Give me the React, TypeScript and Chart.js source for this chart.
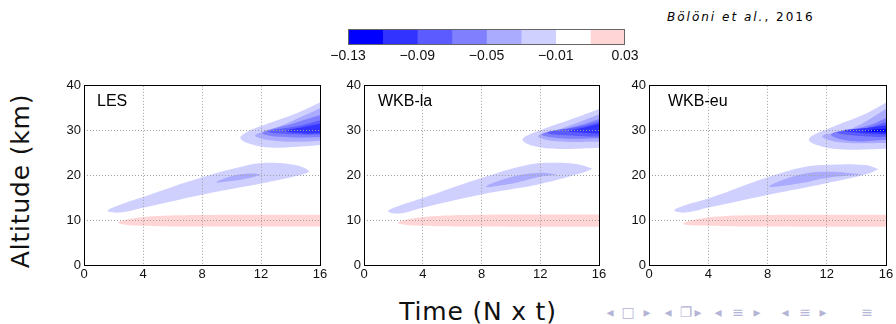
import React, { useEffect, useRef } from 'react';
import { Chart, registerables } from 'chart.js';

Chart.register(...registerables);

type Pt = [number, number];

// ---- axes / colour levels ----
const timeTicks = [0, 4, 8, 12, 16];
const altitudeTicks = [0, 10, 20, 30, 40];
const levelBounds = [-0.13, -0.11, -0.09, -0.07, -0.05, -0.03, -0.01, 0.01, 0.03];
const levelColors = ['#0000ff', '#3333ff', '#5b5bff', '#8080ff', '#aaaaff', '#d0d0ff', '#ffffff', '#ffd5d5'];
const colorbarTicks = [-0.13, -0.09, -0.05, -0.01, 0.03];
const panelNames = ['LES', 'WKB-la', 'WKB-eu'];

// ---- contour outlines (time, altitude) ----
// LES
const lesPink: Pt[] = [[16.4, 8.6], [12, 8.6], [8, 8.6], [5, 8.65], [3.5, 8.8], [2.6, 9.1], [2.3, 9.5], [2.6, 9.9], [3.5, 10.5], [5, 10.95], [8, 11.15], [12, 11.2], [16.4, 11.2]];
const lesBand20: Pt[] = [[15.3, 20.8], [14.7, 20.1], [12, 18.2], [8, 15.7], [4, 12.8], [2.4, 11.7], [1.6, 12.1], [2.4, 13.4], [4, 15.2], [8, 19.6], [10.6, 21.9], [12.4, 22.8], [14.2, 22.4], [15.0, 21.6], [15.3, 20.8]];
const lesCore20: Pt[] = [[12.0, 20.2], [11.3, 19.5], [10.1, 18.8], [9.0, 18.5], [10.1, 19.9], [11.3, 20.4], [12.0, 20.2]];
const les30a: Pt[] = [[16.4, 26.9], [14.5, 26.4], [12.7, 26.2], [11.4, 26.9], [10.6, 28.3], [11.0, 29.6], [12.0, 31.0], [14.5, 34.0], [16.4, 36.9]];
const les30b: Pt[] = [[16.4, 27.8], [14.5, 27.5], [12.5, 27.9], [11.6, 28.9], [12.3, 29.9], [13.3, 31.0], [16.4, 35.6]];
const les30c: Pt[] = [[16.4, 28.5], [13.3, 28.6], [12.1, 29.5], [14.0, 31.4], [16.4, 33.9]];
const les30d: Pt[] = [[16.4, 29.1], [14.0, 29.2], [12.5, 29.8], [14.5, 31.0], [16.4, 32.7]];
const les30e: Pt[] = [[16.4, 29.4], [14.9, 29.4], [13.7, 29.9], [14.9, 30.8], [16.4, 31.8]];

// WKB-la
const laPink: Pt[] = [[16.4, 8.55], [12, 8.55], [8, 8.6], [5, 8.65], [3.5, 8.8], [2.6, 9.1], [2.3, 9.45], [2.6, 9.9], [3.5, 10.5], [5, 10.95], [8, 11.2], [12, 11.25], [16.4, 11.25]];
const laBand20: Pt[] = [[15.55, 21.5], [14.7, 20.4], [12, 18.1], [7.9, 15.7], [4, 12.8], [2.4, 11.5], [1.65, 12.0], [2.4, 13.2], [4, 14.95], [7.9, 19.3], [11.1, 22.3], [12.9, 22.8], [14.7, 22.4], [15.55, 21.5]];
const laCore20: Pt[] = [[13.2, 20.2], [12, 19.7], [10.1, 18.2], [8.3, 17.5], [10.1, 19.7], [12, 20.6], [13.2, 20.2]];
const la30a: Pt[] = [[16.4, 26.2], [13.3, 25.9], [11.5, 26.6], [10.8, 28.1], [12.0, 30.1], [14.5, 33.0], [16.4, 35.3]];
const la30b: Pt[] = [[16.4, 27.5], [12.9, 27.7], [11.85, 28.8], [13.3, 30.3], [16.4, 34.1]];
const la30c: Pt[] = [[16.4, 28.3], [13.3, 28.3], [12.1, 29.2], [14.5, 31.0], [16.4, 33.0]];
const la30d: Pt[] = [[16.4, 28.7], [14.5, 28.8], [12.5, 29.5], [14.9, 31.0], [16.4, 32.4]];
const la30e: Pt[] = [[16.4, 29.2], [15.0, 29.5], [13.9, 29.9], [15.0, 30.7], [16.4, 31.9]];

// WKB-eu
const euPink: Pt[] = [[16.4, 8.55], [12, 8.55], [8, 8.6], [5, 8.65], [3.5, 8.8], [2.6, 8.95], [2.3, 9.2], [2.6, 9.7], [3.5, 10.4], [5, 10.9], [8, 11.15], [12, 11.2], [16.4, 11.2]];
const euBand20: Pt[] = [[15.5, 21.4], [14.6, 20.2], [11.9, 18.2], [8.1, 15.7], [4.1, 12.9], [2.4, 11.7], [1.7, 12.2], [2.4, 13.3], [4.1, 14.95], [8.1, 19.7], [10.5, 21.9], [12.3, 22.4], [14.6, 22.3], [15.5, 21.4]];
const euCore20: Pt[] = [[14.4, 20.2], [12.1, 19.5], [10.1, 18.2], [8.1, 17.5], [10.1, 20.1], [12.1, 20.8], [14.4, 20.2]];
const eu30a: Pt[] = [[16.4, 26.0], [13.1, 25.8], [11.5, 26.6], [10.8, 28.1], [12.0, 30.3], [14.7, 33.9], [16.4, 37.0]];
const eu30b: Pt[] = [[16.4, 27.2], [12.9, 27.4], [11.7, 28.8], [13.6, 30.3], [16.4, 35.6]];
const eu30c: Pt[] = [[16.4, 28.0], [13.6, 27.7], [12.3, 29.2], [14.7, 31.0], [16.4, 33.4]];
const eu30d: Pt[] = [[16.4, 28.6], [14.7, 28.7], [12.7, 29.6], [14.7, 30.6], [16.4, 32.3]];
const eu30e: Pt[] = [[16.4, 29.1], [14.5, 29.4], [13.1, 30.0], [14.5, 30.5], [16.4, 31.4]];
const eu30f: Pt[] = [[16.4, 29.5], [14.5, 29.9], [16.4, 30.5]];

// level index into levelColors for each outline
const lesShapes = [
  { level: 7, pts: lesPink }, { level: 5, pts: lesBand20 }, { level: 4, pts: lesCore20 },
  { level: 5, pts: les30a }, { level: 4, pts: les30b }, { level: 3, pts: les30c }, { level: 2, pts: les30d }, { level: 1, pts: les30e },
];
const laShapes = [
  { level: 7, pts: laPink }, { level: 5, pts: laBand20 }, { level: 4, pts: laCore20 },
  { level: 5, pts: la30a }, { level: 4, pts: la30b }, { level: 3, pts: la30c }, { level: 2, pts: la30d }, { level: 1, pts: la30e },
];
const euShapes = [
  { level: 7, pts: euPink }, { level: 5, pts: euBand20 }, { level: 4, pts: euCore20 },
  { level: 5, pts: eu30a }, { level: 4, pts: eu30b }, { level: 3, pts: eu30c }, { level: 2, pts: eu30d }, { level: 1, pts: eu30e }, { level: 0, pts: eu30f },
];
const panelShapes = [lesShapes, laShapes, euShapes];

// ---- layout (page pixels) ----
const panelLayout = [
  { left: 54, width: 276, labelDx: 13 },
  { left: 334, width: 275, labelDx: 14 },
  { left: 619, width: 277, labelDx: 19 },
];
const PANEL_TOP = 75;
const PANEL_H = 212;

const tickFont = { family: '"Liberation Sans", Arial, sans-serif', size: 13 };

const panelDecor = {
  id: 'panelDecor',
  afterDraw(chart: any, _args: any, opts: any) {
    const { ctx, chartArea: a } = chart;
    ctx.save();
    ctx.strokeStyle = '#000';
    ctx.lineWidth = 1;
    const l = Math.floor(a.left) + 0.5;
    const t = Math.floor(a.top) + 0.5;
    const r = Math.floor(a.right) + 0.5;
    const b = Math.floor(a.bottom) + 0.5;
    ctx.strokeRect(l, t, r - l, b - t);
    ctx.fillStyle = '#000';
    ctx.font = '16px "Liberation Sans", Arial, sans-serif';
    ctx.textBaseline = 'alphabetic';
    ctx.textAlign = 'left';
    ctx.fillText(opts.label, a.left + opts.dx, a.top + 20);
    ctx.restore();
  },
};

function Panel({ idx }: { idx: number }) {
  const ref = useRef<HTMLCanvasElement | null>(null);
  const lay = panelLayout[idx];
  useEffect(() => {
    const canvas = ref.current;
    if (!canvas) return;
    const shapes = panelShapes[idx];
    const chart = new Chart(canvas, {
      type: 'line',
      data: {
        datasets: shapes.map((s) => ({
          data: s.pts.map(([x, y]) => ({ x, y })),
          backgroundColor: levelColors[s.level],
          borderColor: 'rgba(0,0,0,0)',
          borderWidth: 0,
          pointRadius: 0,
          pointHoverRadius: 0,
          fill: 'shape',
          tension: 0.4,
          capBezierPoints: false,
          order: s.level,
        })) as any,
      },
      options: {
        animation: false,
        responsive: false,
        maintainAspectRatio: false,
        events: [],
        layout: { padding: { top: 8, right: 10, left: 0, bottom: 0 } },
        plugins: {
          legend: { display: false },
          tooltip: { enabled: false },
          panelDecor: { label: panelNames[idx], dx: lay.labelDx },
        } as any,
        scales: {
          x: {
            type: 'linear',
            min: 0,
            max: 16,
            afterBuildTicks: (s: any) => { s.ticks = timeTicks.map((v) => ({ value: v })); },
            afterFit: (s: any) => { s.height = 22; },
            grid: { color: '#a0a0a0', lineWidth: 1, drawTicks: false, z: 1 },
            border: { display: false, dash: [1, 2] },
            ticks: { font: tickFont, color: '#111', padding: 2, maxRotation: 0, autoSkip: false },
          },
          y: {
            type: 'linear',
            min: 0,
            max: 40,
            afterBuildTicks: (s: any) => { s.ticks = altitudeTicks.map((v) => ({ value: v })); },
            afterFit: (s: any) => { s.width = 30; },
            grid: { color: '#a0a0a0', lineWidth: 1, drawTicks: false, z: 1 },
            border: { display: false, dash: [1, 2] },
            ticks: { font: tickFont, color: '#111', padding: 3, autoSkip: false },
          },
        },
      } as any,
      plugins: [panelDecor],
    });
    return () => chart.destroy();
  }, [idx]);
  return (
    <canvas
      ref={ref}
      width={lay.width}
      height={PANEL_H}
      style={{ position: 'absolute', left: lay.left, top: PANEL_TOP, width: lay.width, height: PANEL_H }}
    />
  );
}

const colorbarFrame = {
  id: 'colorbarFrame',
  afterDraw(chart: any) {
    const { ctx, chartArea: a } = chart;
    ctx.save();
    ctx.strokeStyle = '#666';
    ctx.lineWidth = 1;
    const l = Math.floor(a.left) + 0.5;
    const t = Math.floor(a.top) + 0.5;
    const r = Math.floor(a.right) - 0.5;
    const b = Math.floor(a.bottom) - 0.5;
    ctx.strokeRect(l, t, r - l, b - t);
    ctx.restore();
  },
};

function fmtLevel(v: number) {
  return (v < 0 ? '\u2212' : '') + Math.abs(v).toFixed(2);
}

function Colorbar() {
  const ref = useRef<HTMLCanvasElement | null>(null);
  useEffect(() => {
    const canvas = ref.current;
    if (!canvas) return;
    const chart = new Chart(canvas, {
      type: 'bar',
      data: {
        labels: ['level'],
        datasets: levelColors.map((c, i) => ({
          data: [[levelBounds[i], levelBounds[i + 1]]],
          backgroundColor: c,
          borderWidth: 0,
          grouped: false,
          barPercentage: 1,
          categoryPercentage: 1,
        })) as any,
      },
      options: {
        indexAxis: 'y',
        animation: false,
        responsive: false,
        maintainAspectRatio: false,
        events: [],
        layout: { padding: { left: 25, right: 25, top: 4, bottom: 0 } },
        plugins: { legend: { display: false }, tooltip: { enabled: false } },
        scales: {
          x: {
            type: 'linear',
            min: -0.13,
            max: 0.03,
            afterBuildTicks: (s: any) => { s.ticks = colorbarTicks.map((v) => ({ value: v })); },
            afterFit: (s: any) => { s.height = 20; },
            grid: { display: false, drawTicks: false },
            border: { display: false },
            ticks: {
              font: { family: '"Liberation Sans", Arial, sans-serif', size: 14 },
              color: '#111',
              padding: 3,
              maxRotation: 0,
              autoSkip: false,
              callback: (v: any) => fmtLevel(Number(v)),
            },
          },
          y: { display: false },
        },
      } as any,
      plugins: [colorbarFrame],
    });
    return () => chart.destroy();
  }, []);
  return (
    <canvas
      ref={ref}
      width={327}
      height={40}
      style={{ position: 'absolute', left: 323, top: 25, width: 327, height: 40 }}
    />
  );
}

const navSymbols: [string, number][] = [
  ['\u25C2', 610], ['\u25A1', 628], ['\u25B8', 647],
  ['\u25C2', 668], ['\u2750', 686], ['\u25B8', 698],
  ['\u25C2', 718], ['\u2261', 738], ['\u25B8', 757],
  ['\u25C2', 785], ['\u2261', 805], ['\u25B8', 823],
  ['\u2261', 867],
];

export default function App() {
  const sans = '"DejaVu Sans", Verdana, sans-serif';
  return (
    <div style={{ position: 'fixed', left: 0, top: 0, width: 896, height: 324, background: '#fff', overflow: 'hidden' }}>
      <div style={{ position: 'absolute', left: 667, top: 10.5, font: `12px ${sans}`, lineHeight: '12px', letterSpacing: '2px', color: '#000', whiteSpace: 'nowrap' }}>
        <i>Bölöni et al.</i>, 2016
      </div>
      <Colorbar />
      {[0, 1, 2].map((i) => <Panel key={i} idx={i} />)}
      <div style={{ position: 'absolute', left: 19.5, top: 181, transform: 'translate(-50%, -50%) rotate(-90deg)', font: `25px ${sans}`, lineHeight: '25px', letterSpacing: '0.8px', color: '#111', whiteSpace: 'nowrap' }}>
        Altitude (km)
      </div>
      <div style={{ position: 'absolute', left: 478, top: 299, transform: 'translateX(-50%)', font: `25px ${sans}`, lineHeight: '25px', letterSpacing: '0.8px', color: '#111', whiteSpace: 'nowrap' }}>
        Time (N x t)
      </div>
      {navSymbols.map(([s, x], i) => (
        <span key={i} style={{ position: 'absolute', left: x, top: 312, transform: 'translate(-50%, -50%)', font: `14px ${sans}`, lineHeight: '14px', color: '#b4b4d6' }}>
          {s}
        </span>
      ))}
    </div>
  );
}
